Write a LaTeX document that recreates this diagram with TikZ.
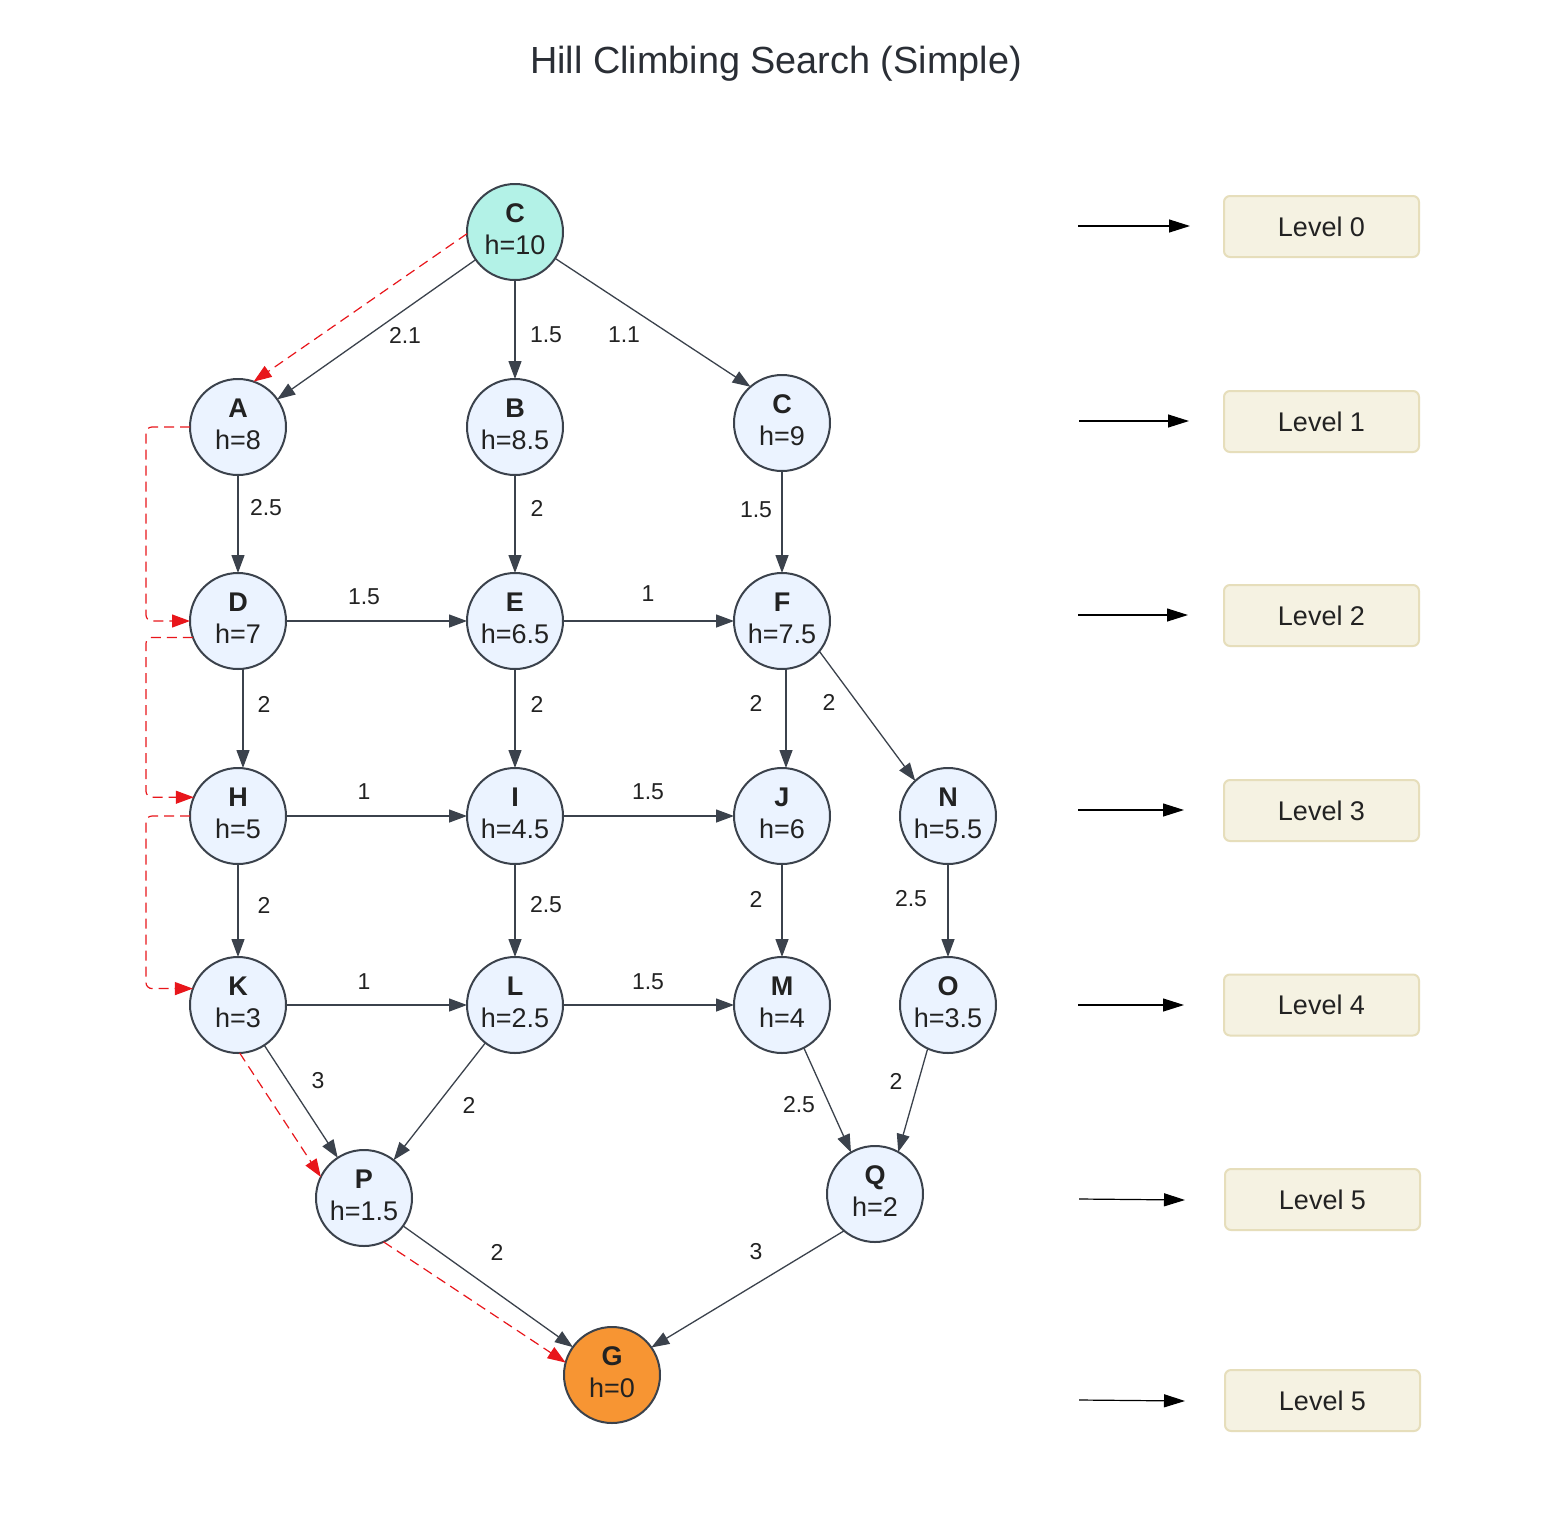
\documentclass[tikz,border=0pt]{standalone}
\usepackage{fontspec}
\setmainfont{Liberation Sans}
\usetikzlibrary{arrows.meta,calc}
\definecolor{edgec}{HTML}{3B424C}
\definecolor{nodefill}{HTML}{EBF3FF}
\definecolor{startfill}{HTML}{B3F2E7}
\definecolor{goalfill}{HTML}{F79533}
\definecolor{redc}{HTML}{E8161B}
\definecolor{levfill}{HTML}{F5F2E2}
\definecolor{levdraw}{HTML}{E6DEBB}
\definecolor{txt}{HTML}{222222}
\definecolor{titlec}{HTML}{2A2E35}
\newcommand\ndtxt[2]{\begin{tabular}{@{}c@{}}\textbf{#1}\\#2\end{tabular}}
\begin{document}
\begin{tikzpicture}[x=0.5pt,y=-0.5pt,
  st/.style={circle, draw=edgec, line width=1pt, fill=nodefill, minimum size=48pt,
    inner sep=0pt, outer sep=0pt, font=\fontsize{13.5}{16}\selectfont, text=txt},
  edge/.style={draw=edgec, line width=0.65pt, -{Triangle[length=9pt,width=6.5pt]}},
  redpath/.style={draw=redc, line width=0.6pt, dash pattern=on 5pt off 3pt,
    -{Triangle[length=9pt,width=6.5pt]}, rounded corners=3pt},
  lbl/.style={font=\fontsize{11.5}{13}\selectfont, text=txt, inner sep=0pt},
  levarr/.style={draw=black, line width=0.6pt, -{Triangle[length=10.5pt,width=6.5pt]}},
  levbox/.style={draw=levdraw, line width=1pt, fill=levfill, rounded corners=3pt,
    minimum width=97.5pt, minimum height=30.5pt, inner sep=0pt,
    font=\fontsize{13.5}{16}\selectfont, text=txt}]
\fill[white] (0,0) rectangle (1544,1522);
\useasboundingbox (0,0) rectangle (1544,1522);

\node[font=\fontsize{18.9}{22}\selectfont, text=titlec] (title) at (776,64) {Hill Climbing Search (Simple)};

% nodes
\node[st, fill=startfill] (C0) at (515,232) {\ndtxt{C}{h=10}};
\node[st] (A) at (238,427) {\ndtxt{A}{h=8}};
\node[st] (B) at (515,427) {\ndtxt{B}{h=8.5}};
\node[st] (C1) at (782,423) {\ndtxt{C}{h=9}};
\node[st] (D) at (238,621) {\ndtxt{D}{h=7}};
\node[st] (E) at (515,621) {\ndtxt{E}{h=6.5}};
\node[st] (F) at (782,621) {\ndtxt{F}{h=7.5}};
\node[st] (H) at (238,816) {\ndtxt{H}{h=5}};
\node[st] (I) at (515,816) {\ndtxt{I}{h=4.5}};
\node[st] (J) at (782,816) {\ndtxt{J}{h=6}};
\node[st] (N) at (948,816) {\ndtxt{N}{h=5.5}};
\node[st] (K) at (238,1005) {\ndtxt{K}{h=3}};
\node[st] (L) at (515,1005) {\ndtxt{L}{h=2.5}};
\node[st] (M) at (782,1005) {\ndtxt{M}{h=4}};
\node[st] (O) at (948,1005) {\ndtxt{O}{h=3.5}};
\node[st] (P) at (364,1198) {\ndtxt{P}{h=1.5}};
\node[st] (Q) at (875,1194) {\ndtxt{Q}{h=2}};
\node[st, fill=goalfill] (G) at (612,1375) {\ndtxt{G}{h=0}};

% edges
\draw[edge] (C0) -- (A) node[lbl] (w1) at (405,335) {2.1};
\draw[edge] (C0) -- (B) node[lbl] (w2) at (546,335) {1.5};
\draw[edge] (C0) -- (C1.131) node[lbl] (w3) at (624,335) {1.1};
\draw[edge] (A) -- (D) node[lbl] (w4) at (266,508) {2.5};
\draw[edge] (B) -- (E) node[lbl] (w5) at (537,508) {2};
\draw[edge] (C1) -- (F) node[lbl] (w6) at (756,510) {1.5};
\draw[edge] (D) -- (E) node[lbl] (w7) at (364,597) {1.5};
\draw[edge] (E) -- (F) node[lbl] (w8) at (648,594) {1};
\draw[edge] ([xshift=2.5pt]D.south) -- ([xshift=2.5pt]H.north) node[lbl] (w9) at (264,704) {2};
\draw[edge] (E) -- (I) node[lbl] (w10) at (537,704) {2};
\draw[edge] ([xshift=2pt]F.south) -- ([xshift=2pt]J.north) node[lbl] (w11) at (756,703) {2};
\draw[edge] (F.321) -- (N.133) node[lbl] (w12) at (829,702) {2};
\draw[edge] (H) -- (I) node[lbl] (w13) at (364,792) {1};
\draw[edge] (I) -- (J) node[lbl] (w14) at (648,792) {1.5};
\draw[edge] (H) -- (K) node[lbl] (w15) at (264,905) {2};
\draw[edge] (I) -- (L) node[lbl] (w16) at (546,905) {2.5};
\draw[edge] (J) -- (M) node[lbl] (w17) at (756,899) {2};
\draw[edge] (N) -- (O) node[lbl] (w18) at (911,899) {2.5};
\draw[edge] (K) -- (L) node[lbl] (w19) at (364,982) {1};
\draw[edge] (L) -- (M) node[lbl] (w20) at (648,982) {1.5};
\draw[edge] (K) -- (P) node[lbl] (w21) at (318,1081) {3};
\draw[edge] (L) -- (P) node[lbl] (w22) at (469,1105) {2};
\draw[edge] (M.297) -- (Q.120) node[lbl] (w23) at (799,1105) {2.5};
\draw[edge] (O.245) -- (Q.61) node[lbl] (w24) at (896,1081) {2};
\draw[edge] (P) -- (G) node[lbl] (w25) at (497,1252) {2};
\draw[edge] (Q.230) -- (G.35) node[lbl] (w26) at (756,1252) {3};

% red search path
\coordinate (rail) at (146,0);
\draw[redpath] (C0.182) -- (A.71);
\draw[redpath] (A.west) -- (A.west -| rail) |- (D.west);
\draw[redpath] (D.200) -- (D.200 -| rail) |- (H.157);
\draw[redpath] (H.west) -- (H.west -| rail) |- (K.160);
\draw[redpath] (K.272) -- (P.154);
\draw[redpath] (P.294) -- (G.165);

% levels
\coordinate (a0s) at (1078,226); \coordinate (a0e) at (1190,226);
\coordinate (a1s) at (1079,421); \coordinate (a1e) at (1189,421);
\coordinate (a2s) at (1078,615); \coordinate (a2e) at (1188,615);
\coordinate (a3s) at (1078,810); \coordinate (a3e) at (1184,810);
\coordinate (a4s) at (1078,1005); \coordinate (a4e) at (1184,1005);
\coordinate (a5s) at (1079,1199); \coordinate (a5e) at (1185,1200);
\coordinate (a6s) at (1079,1400); \coordinate (a6e) at (1185,1401);
\draw[levarr] (a0s) -- (a0e);
\draw[levarr] (a1s) -- (a1e);
\draw[levarr] (a2s) -- (a2e);
\draw[levarr] (a3s) -- (a3e);
\draw[levarr] (a4s) -- (a4e);
\draw[levarr] (a5s) -- (a5e);
\draw[levarr] (a6s) -- (a6e);
\node[levbox] (L0) at (1321.5,226.5) {Level 0};
\node[levbox] (L1) at (1321.5,421.5) {Level 1};
\node[levbox] (L2) at (1321.5,615.5) {Level 2};
\node[levbox] (L3) at (1321.5,810.5) {Level 3};
\node[levbox] (L4) at (1321.5,1005) {Level 4};
\node[levbox] (L5) at (1322.5,1199.5) {Level 5};
\node[levbox] (L6) at (1322.5,1400.5) {Level 5};
\end{tikzpicture}
\end{document}
